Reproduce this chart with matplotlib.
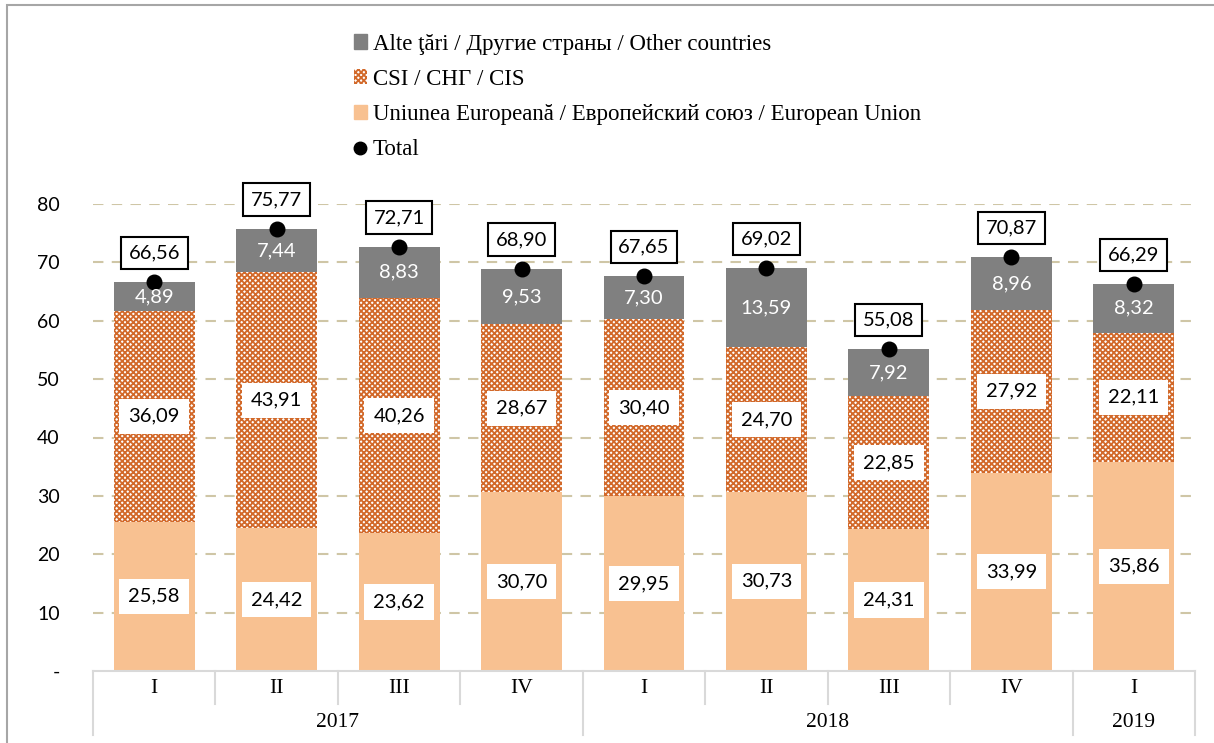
import matplotlib.pyplot as plt
from matplotlib.patches import Rectangle
from matplotlib.lines import Line2D
import numpy as np

# Data
quarters = ['I', 'II', 'III', 'IV', 'I', 'II', 'III', 'IV', 'I']
years = ['2017', '2018', '2019']
year_spans = [4, 4, 1]
eu = [25.58, 24.42, 23.62, 30.70, 29.95, 30.73, 24.31, 33.99, 35.86]
cis = [36.09, 43.91, 40.26, 28.67, 30.40, 24.70, 22.85, 27.92, 22.11]
other = [4.89, 7.44, 8.83, 9.53, 7.30, 13.59, 7.92, 8.96, 8.32]
total = [66.56, 75.77, 72.71, 68.90, 67.65, 69.02, 55.08, 70.87, 66.29]

leg_labels = ['Alte ţări / Другие страны / Other countries',
              'CSI / СНГ / CIS',
              'Uniunea Europeană / Европейский союз / European Union',
              'Total']

c_eu = '#F8C191'
c_cis = '#D2692A'
c_other = '#808080'
serif = ['Liberation Serif', 'DejaVu Serif']
sans = ['Lato', 'DejaVu Sans']

plt.rcParams['hatch.linewidth'] = 1.3

fig = plt.figure(figsize=(12.14, 7.43), dpi=100)
ax = fig.add_axes([93/1214, 1 - 671/743, 1102/1214, 467/743])

# outer chart border
fig.patches.append(Rectangle((7/1214, -0.1), 1.2, 1 - 5/743 + 0.1, transform=fig.transFigure,
                             fill=False, edgecolor='#A6A6A6', lw=1.5))

x = np.arange(len(quarters))
w = 0.66
eu_a = np.array(eu)
cis_a = np.array(cis)
oth_a = np.array(other)

ax.bar(x, eu_a, w, color=c_eu, lw=0, zorder=2)
ax.bar(x, cis_a, w, bottom=eu_a, facecolor='white', edgecolor=c_cis, hatch='xxxxxx', lw=0, zorder=2)
ax.bar(x, oth_a, w, bottom=eu_a + cis_a, color=c_other, lw=0, zorder=2)
ax.scatter(x, total, s=110, color='black', zorder=4)

def fmt(v):
    return f'{v:.2f}'.replace('.', ',')

for i in range(len(x)):
    ax.text(x[i], eu_a[i] / 2, fmt(eu[i]), ha='center', va='center', fontsize=14.5,
            family=sans, zorder=5,
            bbox=dict(boxstyle='square,pad=0.45', fc='white', ec='none'))
    ax.text(x[i], eu_a[i] + cis_a[i] / 2, fmt(cis[i]), ha='center', va='center', fontsize=14.5,
            family=sans, zorder=5,
            bbox=dict(boxstyle='square,pad=0.45', fc='white', ec='none'))
    ax.text(x[i], eu_a[i] + cis_a[i] + oth_a[i] / 2, fmt(other[i]), ha='center', va='center',
            fontsize=14.5, family=sans, color='white', zorder=5)
    ax.annotate(fmt(total[i]), (x[i], total[i]), xytext=(0, 21), textcoords='offset points',
                ha='center', va='center', fontsize=14.5, family=sans, zorder=6,
                bbox=dict(boxstyle='square,pad=0.38', fc='white', ec='black', lw=1.5),
                annotation_clip=False)

ax.set_xlim(-0.5, len(x) - 0.5)
ax.set_ylim(0, 80)
ax.set_yticks(np.arange(0, 81, 10))
ax.set_yticklabels(['-'] + [str(v) for v in range(10, 81, 10)], family=sans, fontsize=14)
ax.tick_params(axis='y', length=0, pad=24)
ax.set_xticks([])
for s in ['top', 'right', 'left']:
    ax.spines[s].set_visible(False)
ax.spines['bottom'].set_color('#D9D9D9')
ax.spines['bottom'].set_linewidth(1.5)
for v in range(10, 81, 10):
    ax.axhline(v, color='#CFC6A6', lw=1.5, ls=(0, (5, 4)), zorder=1)

# multi-level category axis
tr = ax.get_xaxis_transform()
for i, q in enumerate(quarters):
    ax.text(x[i], -0.038, q, transform=tr, ha='center', va='center', fontsize=15.5, family=serif)
pos = 0
edges = [-0.5]
for y, n in zip(years, year_spans):
    ax.text(pos + n / 2 - 0.5, -0.11, y, transform=tr, ha='center', va='center', fontsize=15.5, family=serif)
    pos += n
    edges.append(pos - 0.5)
for k in range(len(quarters) + 1):
    e = k - 0.5
    low = -0.137 if e in edges else -0.07
    ax.add_line(Line2D([e, e], [0, low], transform=tr, color='#D9D9D9', lw=1.5, clip_on=False))

# legend
handles = [Rectangle((0, 0), 1, 1, color=c_other),
           Rectangle((0, 0), 1, 1, facecolor='white', edgecolor=c_cis, hatch='xxxxxx', lw=0),
           Rectangle((0, 0), 1, 1, color=c_eu),
           Line2D([], [], ls='none', marker='o', color='black', markersize=9)]
fig.legend(handles, leg_labels, loc='upper left', bbox_to_anchor=(333/1214, 1 - 13/743),
           frameon=False, prop={'family': serif, 'size': 16.5}, handlelength=0.6,
           handleheight=0.6, handletextpad=0.25, labelspacing=0.62)

fig.savefig('out.png', dpi=100)
